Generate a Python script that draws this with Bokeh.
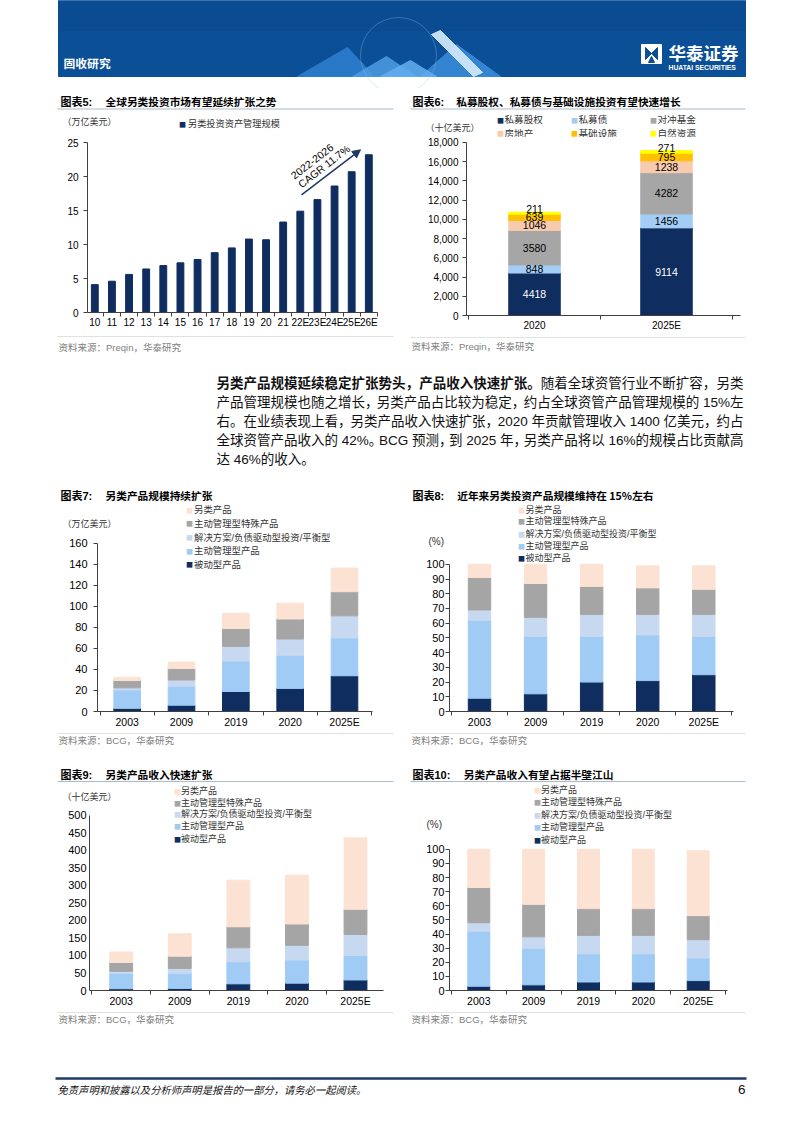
from bokeh.plotting import figure
from bokeh.models import (Range1d, FixedTicker, CustomJSTickFormatter, NumeralTickFormatter,
                          Arrow, NormalHead, ColumnDataSource)
from bokeh.layouts import column, row
from bokeh.core.properties import value
from bokeh.embed import file_html
from bokeh.resources import INLINE

MIX = "Liberation Sans, Noto Sans CJK SC"
CJK = "Noto Sans CJK SC"

# ---------------- data ----------------
c5_years = ["10", "11", "12", "13", "14", "15", "16", "17", "18", "19", "20", "21",
            "22E", "23E", "24E", "25E", "26E"]
c5_aum = [4.1, 4.6, 5.6, 6.4, 6.9, 7.3, 7.8, 8.8, 9.5, 10.8, 10.7, 13.3,
          14.9, 16.6, 18.6, 20.7, 23.2]
c5_yticks = [0, 5, 10, 15, 20, 25]

c6_years = ["2020", "2025E"]
c6_names = ["私募股权", "私募债", "对冲基金", "房地产", "基础设施", "自然资源"]
c6_pe = [4418, 9114]
c6_pd = [848, 1456]
c6_hf = [3580, 4282]
c6_re = [1046, 1238]
c6_infra = [639, 795]
c6_nr = [211, 271]
c6_yticks = [0, 2000, 4000, 6000, 8000, 10000, 12000, 14000, 16000, 18000]

years = ["2003", "2009", "2019", "2020", "2025E"]
prod_names = ["被动型产品", "主动管理型产品", "解决方案/负债驱动型投资/平衡型", "主动管理型特殊产品", "另类产品"]

c7_passive = [3, 6, 19, 22, 34]
c7_active = [17.5, 18, 29, 31.5, 36]
c7_solution = [2, 6, 14, 15.5, 21]
c7_special = [7, 11, 17, 19, 23]
c7_alt = [3, 6, 14.5, 15, 22.5]
c7_yticks = [0, 20, 40, 60, 80, 100, 120, 140, 160]

c8_passive = [9, 12, 20, 21, 25]
c8_active = [53, 39, 31, 31, 26]
c8_solution = [7, 13, 15, 14, 15]
c8_special = [22, 23, 19, 18, 17]
c8_alt = [9, 13, 15, 15, 16]
pct_yticks = [0, 10, 20, 30, 40, 50, 60, 70, 80, 90, 100]

c9_passive = [5, 6, 19, 21, 30]
c9_active = [44, 43, 63, 66, 70]
c9_solution = [6, 14, 40, 42, 60]
c9_special = [25, 35, 60, 61, 72]
c9_alt = [30, 64, 133, 139, 204]
c9_yticks = [0, 50, 100, 150, 200, 250, 300, 350, 400, 450, 500]

c10_passive = [3, 4, 6, 6, 7]
c10_active = [39, 26, 20, 20, 16]
c10_solution = [6, 8, 13, 13, 13]
c10_special = [25, 23, 19, 19, 17]
c10_alt = [27, 39, 42, 42, 46]

# paragraph, split into chunks at punctuation (first two chunks of line 1 are bold)
para_lines = [
    ["另类产品规模延续稳定扩张势头，", "产品收入快速扩张。", "随着全球资管行业不断扩容，", "另类"],
    ["产品管理规模也随之增长，", "另类产品占比较为稳定，", "约占全球资管产品管理规模的 15%左"],
    ["右。在业绩表现上看，", "另类产品收入快速扩张，", "2020 年贡献管理收入 1400 亿美元，", "约占"],
    ["全球资管产品收入的 42%。", "BCG 预测，", "到 2025 年，", "另类产品将以 16%的规模占比贡献高"],
    ["达 46%的收入。"],
]

# ---------------- styles ----------------
NAVY = "#0f2d5f"
C6_COLORS = [NAVY, "#a3cdf4", "#a6a6a6", "#f8caae", "#ffc000", "#ffff00"]
PROD_COLORS = [NAVY, "#9fcbf5", "#c7d9f0", "#a5a5a5", "#fce2d3"]
AXIS = "#404040"
TITLE_LINE = "#a9bbcf"
SRC_LINE = "#d9d9d9"


def unalign(p):
    try:
        p.frame_align = False
    except Exception:
        pass


def base_fig(w, h, x0, x1, y0, y1):
    p = figure(width=w, height=h, x_range=Range1d(x0, x1), y_range=Range1d(y0, y1),
               x_axis_type=None, y_axis_type=None, min_border=0,
               output_backend="svg", toolbar_location=None)
    p.outline_line_color = None
    p.xgrid.visible = False
    p.ygrid.visible = False
    p.background_fill_color = "white"
    p.border_fill_color = "white"
    unalign(p)
    return p


class Block:
    """One chart block: a text strip above, the chart itself, a text strip below."""

    def __init__(self, L, R, T, B, ys, yb, fl, fr, ft, fb, n, cf, cl, ymax):
        self.top = base_fig(R - L, ys - T, L, R, ys, T)
        self.bot = base_fig(R - L, B - yb, L, R, B, yb)
        u = (cl - cf) / (n - 1)
        xs = -(cf - fl) / u
        xe = (n - 1) + (fr - cl) / u
        yend = ymax * (fb - ys) / (fb - ft)
        p = figure(width=R - L, height=yb - ys, x_range=Range1d(xs, xe), y_range=Range1d(0, yend),
                   min_border_left=fl - L, min_border_right=R - fr,
                   min_border_top=0, min_border_bottom=yb - fb,
                   output_backend="svg", toolbar_location=None)
        p.outline_line_color = None
        p.xgrid.visible = False
        p.ygrid.visible = False
        p.background_fill_color = "white"
        p.border_fill_color = "white"
        unalign(p)
        self.p = p
        self.ys, self.yb, self.ymax = ys, yb, ymax
        self.conv = lambda x, y: (xs + (x - fl) / u, (fb - y) * ymax / (fb - ft))

    def layout(self):
        return column(self.top, self.p, self.bot)

    def axes(self, cats, yticks, xsize, ysize, ystand, ytick_out, xstand, fmt=None):
        p = self.p
        n = len(cats)
        xa = p.xaxis[0]
        xa.ticker = FixedTicker(ticks=list(range(n)), minor_ticks=[i - 0.5 for i in range(n + 1)])
        xa.formatter = CustomJSTickFormatter(
            args=dict(labels=cats),
            code="const i = Math.round(tick); return (i >= 0 && i < labels.length) ? labels[i] : '';")
        xa.major_tick_out = 0
        xa.major_tick_in = 0
        xa.minor_tick_out = 4
        xa.minor_tick_in = 0
        xa.minor_tick_line_color = AXIS
        xa.axis_line_color = AXIS
        xa.major_label_text_font = MIX
        xa.major_label_text_font_size = xsize
        xa.major_label_text_color = "#000000"
        xa.major_label_standoff = xstand
        ya = p.yaxis[0]
        ya.ticker = FixedTicker(ticks=yticks)
        ya.bounds = (0, self.ymax)
        if fmt is not None:
            ya.formatter = fmt
        ya.major_tick_out = ytick_out
        ya.major_tick_in = 0
        ya.minor_tick_line_color = None
        ya.major_tick_line_color = AXIS
        ya.axis_line_color = AXIS
        ya.major_label_text_font = MIX
        ya.major_label_text_font_size = ysize
        ya.major_label_text_color = "#000000"
        ya.major_label_standoff = ystand

    def text(self, x, y, t, size="10px", color="#333333", font=MIX, style="normal",
             align="left", angle=0.0):
        if y < self.ys:
            fig, X, Y = self.top, x, y
        elif y > self.yb:
            fig, X, Y = self.bot, x, y
        else:
            fig = self.p
            X, Y = self.conv(x, y)
        fig.text(x=[X], y=[Y], text=[t], text_font=value(font), text_font_size=size,
                 text_color=color, text_font_style=style, text_align=align,
                 text_baseline="middle", angle=angle)

    def header(self, x, y, tag, title, title_x, line_y=None, x0=57, x1=393, size="10.7px"):
        self.text(x, y, tag, size="11px", color="#000000", style="bold")
        self.text(title_x, y, title, size=size, color="#000000", style="bold", font=CJK)
        if line_y is not None:
            self.top.segment(x0=[x0], y0=[line_y], x1=[x1], y1=[line_y],
                             line_color=TITLE_LINE, line_width=1)

    def source(self, x0, x1, yline, ytext, text):
        self.bot.segment(x0=[x0], y0=[yline], x1=[x1], y1=[yline], line_color=SRC_LINE, line_width=0.8)
        self.text(x0 + 1, ytext, text, size="9.5px", color="#808080")

    def legend_item(self, sx, tx, y, color, label, size="9.5px"):
        self.text(sx, y, "■", size="7px", color=color, font=CJK, align="center")
        self.text(tx, y, label, size=size, color="#333333")


def stacked_products(blk, cats, series, width):
    src = {"x": list(range(len(cats)))}
    keys = []
    for i, s in enumerate(series):
        k = "s%d" % i
        src[k] = s
        keys.append(k)
    blk.p.vbar_stack(keys, x="x", width=width, color=PROD_COLORS, source=ColumnDataSource(src))


def prod_legend(blk, sx, tx, ys, size="9.3px"):
    order = [4, 3, 2, 1, 0]
    for y, k in zip(ys, order):
        blk.legend_item(sx, tx, y, PROD_COLORS[k], prod_names[k], size=size)


# ---------------- header band ----------------
hdr = base_fig(802, 88, 0, 802, 88, 0)
hdr.quad(left=[58], right=[745], top=[0], bottom=[76], color="#0b4f96")
hdr.quad(left=[58], right=[745], top=[0], bottom=[30], color="#0a4a8e", alpha=0.6)
hdr.patches(xs=[[297, 347, 374], [352, 386, 416], [420, 456, 500], [380, 410, 436]],
            ys=[[76, 47, 76], [76, 56, 76], [76, 44, 76], [76, 60, 76]],
            color=["#2f7fd0", "#4d9be2", "#3b8ddc", "#63aef0"], alpha=0.85)
hdr.patches(xs=[[431, 440, 482, 473]], ys=[[34, 30, 72, 76]], color=["#d6ebfb"], alpha=0.9)
hdr.circle(x=[398], y=[55], radius=38, fill_color=None, line_color="#8fc3f0", line_alpha=0.35)
hdr.text(x=[63], y=[62], text=["固收研究"], text_font=value(CJK), text_font_size="11.8px",
         text_font_style="bold", text_color="white", text_baseline="middle")
hdr.quad(left=[641], right=[661], top=[44], bottom=[63], color="white")
hdr.patches(xs=[[645, 651, 645], [657, 651, 657], [648, 654, 651]],
            ys=[[47, 53, 59], [47, 53, 59], [62, 62, 56]],
            color=["#0b4f96", "#0b4f96", "#0b4f96"])
hdr.text(x=[668], y=[52], text=["华泰证券"], text_font=value(CJK), text_font_size="17.5px",
         text_font_style="bold", text_color="white", text_baseline="middle")
hdr.text(x=[668], y=[66.5], text=["HUATAI SECURITIES"], text_font=value("Liberation Sans"),
         text_font_size="6.8px", text_font_style="bold", text_color="white", text_baseline="middle")

# ---------------- chart 5 ----------------
b5 = Block(0, 400, 88, 356, 134, 331, 87, 377, 142, 312, len(c5_years), 94.3, 368.3, 25)
b5.p.vbar(x=list(range(len(c5_years))), top=c5_aum, width=0.4, color=NAVY)
b5.axes(c5_years, c5_yticks, "10px", "10px", 5, 4, 0)
b5.header(60, 101, "图表5:", "全球另类投资市场有望延续扩张之势", 105, line_y=108.5)
b5.text(62, 121, "（万亿美元）", size="9px")
b5.legend_item(182, 187.5, 123, NAVY, "另类投资资产管理规模", size="9.2px")
ax0, ay0 = b5.conv(301, 194.3)
ax1, ay1 = b5.conv(360, 149.3)
b5.p.add_layout(Arrow(end=NormalHead(size=8, fill_color="#1f3864", line_color="#1f3864"),
                      x_start=ax0, y_start=ay0, x_end=ax1, y_end=ay1,
                      line_color="#1f3864", line_width=1.5))
b5.text(311.5, 160.7, "2022-2026", size="10.5px", color="#000000", align="center", angle=0.66)
b5.text(323.3, 165.7, "CAGR 11.7%", size="10.5px", color="#000000", align="center", angle=0.66)
b5.source(57, 393, 336, 347, "资料来源：Preqin，华泰研究")

# ---------------- chart 6 ----------------
b6 = Block(400, 802, 88, 356, 137, 333, 466, 740, 142, 316, len(c6_years), 534, 666, 18000)
c6_series = [c6_pe, c6_pd, c6_hf, c6_re, c6_infra, c6_nr]
src6 = {"x": list(range(len(c6_years)))}
keys6 = []
for i, s in enumerate(c6_series):
    src6["s%d" % i] = s
    keys6.append("s%d" % i)
b6.p.vbar_stack(keys6, x="x", width=0.39, color=C6_COLORS, source=ColumnDataSource(src6))
lx, ly, lt, lc = [], [], [], []
tx, ty, tt = [], [], []
for j in range(len(c6_years)):
    base = 0
    for k, s in enumerate(c6_series):
        v = s[j]
        if k == len(c6_series) - 1:
            tx.append(j); ty.append(base + v / 2); tt.append(str(v))
        else:
            lx.append(j); ly.append(base + v / 2); lt.append(str(v))
            lc.append("white" if k == 0 else "black")
        base += v
b6.p.text(x="x", y="y", text="t", text_color="c",
          source=ColumnDataSource(dict(x=lx, y=ly, t=lt, c=lc)),
          text_font=value("Liberation Sans"), text_font_size="10.5px",
          text_align="center", text_baseline="middle")
b6.p.text(x=tx, y=ty, text=tt, text_color="black", y_offset=-4,
          text_font=value("Liberation Sans"), text_font_size="10.5px",
          text_align="center", text_baseline="middle")
b6.axes(c6_years, c6_yticks, "10px", "10px", 4, 4, 0, fmt=NumeralTickFormatter(format="0,0"))
b6.header(412, 101, "图表6:", "私募股权、私募债与基础设施投资有望快速增长", 455.7,
          line_y=108.5, x0=410, x1=745)
b6.text(425, 127, "（十亿美元）", size="9px")
leg_x = [(500, 504), (574, 578), (653, 657)]
for i, name in enumerate(c6_names):
    r, col = divmod(i, 3)
    b6.legend_item(leg_x[col][0], leg_x[col][1], [119, 132.5][r], C6_COLORS[i], name, size="9.6px")
b6.source(410, 745, 337, 346, "资料来源：Preqin，华泰研究")

# ---------------- chart 7 ----------------
b7 = Block(0, 400, 484, 752, 530, 730, 97, 372, 543, 713, len(years), 126.7, 344, 160)
stacked_products(b7, years, [c7_passive, c7_active, c7_solution, c7_special, c7_alt], 0.49)
b7.axes(years, c7_yticks, "10.5px", "11px", 6, 4, 0)
b7.header(60, 495, "图表7:", "另类产品规模持续扩张", 105)
b7.text(62, 523, "（万亿美元）", size="9px")
prod_legend(b7, 189, 193.5, [509, 522.7, 536.7, 550.7, 564.3], size="9.4px")
b7.source(57, 393, 733, 740, "资料来源：BCG，华泰研究")

# ---------------- chart 8 ----------------
b8 = Block(400, 802, 484, 752, 550, 730, 449, 733, 564, 713, len(years), 479, 703.3, 100)
stacked_products(b8, years, [c8_passive, c8_active, c8_solution, c8_special, c8_alt], 0.4)
b8.axes(years, pct_yticks, "10.5px", "11px", 1, 4, 0)
b8.header(412, 495, "图表8:", "近年来另类投资产品规模维持在 15%左右", 456.7)
b8.text(428, 541, "(%)", size="10px")
prod_legend(b8, 521, 525, [509, 520.5, 533, 545.5, 557.7], size="9px")
b8.source(410, 745, 733, 740, "资料来源：BCG，华泰研究")

# ---------------- chart 9 ----------------
b9 = Block(0, 400, 752, 1030, 807, 1009, 89, 383, 815, 992, len(years), 120.7, 355, 500)
stacked_products(b9, years, [c9_passive, c9_active, c9_solution, c9_special, c9_alt], 0.39)
b9.axes(years, c9_yticks, "10.5px", "11px", 3, 0, 0)
b9.header(60, 774, "图表9:", "另类产品收入快速扩张", 105, line_y=781)
b9.text(62, 796, "（十亿美元）", size="9px")
prod_legend(b9, 177, 180.5, [790, 802, 814, 826, 838.7], size="9px")
b9.source(57, 393, 1012, 1019.3, "资料来源：BCG，华泰研究")

# ---------------- chart 10 ----------------
b10 = Block(400, 802, 752, 1030, 834, 1009, 449, 727, 849, 992, len(years), 478.3, 697.7, 100)
stacked_products(b10, years, [c10_passive, c10_active, c10_solution, c10_special, c10_alt], 0.4)
b10.axes(years, pct_yticks, "10.5px", "11px", 1, 4, 0)
b10.header(412, 774, "图表10:", "另类产品收入有望占据半壁江山", 463.3, line_y=781, x0=410, x1=745)
b10.text(426, 824, "(%)", size="10px")
prod_legend(b10, 537, 540.5, [789.3, 801.7, 814, 826.7, 839.3], size="9px")
b10.source(410, 745, 1012, 1019.3, "资料来源：BCG，华泰研究")

# ---------------- paragraph band (justified chunk by chunk) ----------------
para = base_fig(802, 128, 0, 802, 484, 356)
PF = value(MIX)
PSIZE = 13.5
PL, PR = 216, 743
para_y = [383, 402, 421, 440, 458.5]
EMW = {" ": 0.278, "%": 0.889, "B": 0.667, "C": 0.722, "G": 0.778}


def em_width(s):
    w = 0.0
    for ch in s:
        if ch.isdigit():
            w += 0.556
        elif ch in EMW:
            w += EMW[ch]
        else:
            w += 1.0
    return w


for li, (chunks, y) in enumerate(zip(para_lines, para_y)):
    widths = [em_width(c) * PSIZE for c in chunks]
    if len(chunks) > 1:
        gap = (PR - PL - sum(widths)) / (len(chunks) - 1)
    else:
        gap = 0
    x = PL
    for ci, (c, w) in enumerate(zip(chunks, widths)):
        style = "bold" if (li == 0 and ci < 2) else "normal"
        para.text(x=[x], y=[y], text=[c], text_font=PF, text_font_size="%.1fpx" % PSIZE,
                  text_font_style=style, text_color="#111111", text_baseline="middle")
        x += w + gap

# ---------------- footer band ----------------
foot = base_fig(802, 103, 0, 802, 1133, 1030)
foot.segment(x0=[55], y0=[1078], x1=[746], y1=[1078], line_color="#1f3a68", line_width=2.5)
foot.text(x=[57], y=[1088.5], text=["免责声明和披露以及分析师声明是报告的一部分，请务必一起阅读。"],
          text_font=value(CJK), text_font_size="10.3px", text_font_style="italic",
          text_color="#111111", text_baseline="middle")
foot.text(x=[745], y=[1088.5], text=["6"], text_font=value("Liberation Sans"), text_font_size="13.5px",
          text_color="#111111", text_baseline="middle", text_align="right")

page = column(hdr,
              row(b5.layout(), b6.layout()),
              para,
              row(b7.layout(), b8.layout()),
              row(b9.layout(), b10.layout()),
              foot)
open("out.html", "w").write(file_html(page, INLINE))
